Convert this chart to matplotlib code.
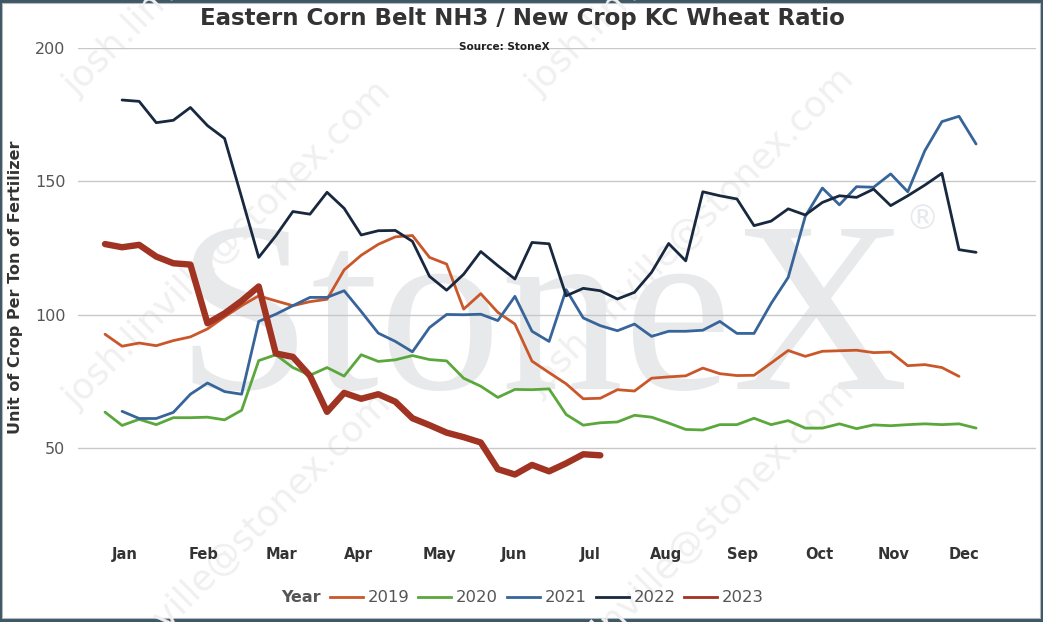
import numpy as np
import matplotlib
matplotlib.use("Agg")
import matplotlib.pyplot as plt
from matplotlib.lines import Line2D
from matplotlib.patches import Rectangle

# ---------------- data ----------------
months = ["Jan", "Feb", "Mar", "Apr", "May", "Jun", "Jul", "Aug", "Sep", "Oct", "Nov", "Dec"]
years = ["2019", "2020", "2021", "2022", "2023"]
N = None

y2019 = [92.7, 88.2, 89.4, 88.4, 90.3, 91.7, 94.7, 99.2, 103.4, 107.1, 105.2, 103.4, 104.9, 105.8,
         116.8, 122.3, 126.4, 129.2, 129.7, 121.5, 119.0, 102.1, 107.9, 100.9, 96.5, 82.6, 78.3,
         74.1, 68.5, 68.7, 71.9, 71.4, 76.2, 76.7, 77.1, 80.0, 77.9, 77.2, 77.3, 81.9, 86.6, 84.4,
         86.3, 86.5, 86.7, 85.8, 86.0, 80.9, 81.3, 80.2, 76.9, N]
y2020 = [63.5, 58.5, 60.8, 58.8, 61.4, 61.4, 61.6, 60.6, 64.2, 82.8, 85.0, 80.2, 77.3, 80.2, 77.0,
         85.0, 82.5, 83.1, 84.7, 83.2, 82.7, 76.2, 73.2, 69.0, 72.0, 71.9, 72.2, 62.6, 58.6, 59.5,
         59.8, 62.3, 61.6, 59.4, 57.0, 56.8, 58.8, 58.8, 61.2, 58.8, 60.3, 57.5, 57.5, 59.1, 57.3,
         58.7, 58.4, 58.8, 59.1, 58.8, 59.1, 57.5]
y2021 = [N, 63.8, 61.1, 61.1, 63.4, 70.2, 74.4, 71.2, 70.2, 97.5, 100.2, 103.4, 106.5, 106.5, 109.0,
         101.2, 93.1, 90.0, 86.1, 95.2, 100.1, 100.0, 100.2, 97.8, 106.9, 93.8, 90.0, 109.4, 98.8,
         95.9, 94.0, 96.5, 91.9, 93.8, 93.8, 94.2, 97.5, 93.0, 93.0, 104.2, 114.0, 136.9, 147.5,
         141.2, 148.0, 147.8, 152.8, 146.1, 161.5, 172.4, 174.4, 164.0]
y2022 = [N, 180.5, 180.0, 172.0, 172.9, 177.7, 170.9, 166.1, 144.0, 121.5, 129.6, 138.7, 137.7,
         145.9, 139.9, 129.9, 131.5, 131.6, 127.5, 114.4, 109.2, 115.2, 123.7, 118.4, 113.4, 127.1,
         126.6, 107.1, 109.9, 109.0, 105.9, 108.4, 115.9, 126.7, 120.2, 146.1, 144.6, 143.4, 133.4,
         135.1, 139.7, 137.4, 142.1, 144.6, 144.0, 147.1, 140.9, 144.6, 148.6, 153.0, 124.4, 123.4]
y2023 = [126.5, 125.3, 126.2, 121.8, 119.3, 118.8, 96.8, 100.5, 105.2, 110.6, 85.5, 84.2, 77.1,
         63.6, 70.7, 68.5, 70.2, 67.4, 61.2, 58.6, 55.8, 54.1, 52.1, 42.1, 40.1, 43.7, 41.3, 44.3,
         47.7, 47.3]

series = [y2019, y2020, y2021, y2022, y2023]

# ---------------- style / layout ----------------
colors = ["#c9572a", "#5aa83c", "#37659a", "#18283f", "#a03322"]
widths = [2.0, 2.0, 2.0, 2.0, 4.6]
month_pos = [1.15, 5.76, 10.36, 14.85, 19.56, 23.96, 28.40, 32.83, 37.35, 41.84, 46.15, 50.29]

W, H = 1043, 622
fig = plt.figure(figsize=(W / 100, H / 100), dpi=100)
fig.patch.set_facecolor("#3e5868")
fig.patches.append(Rectangle((2 / W, 4 / H), (1040 - 2) / W, (619 - 4) / H,
                             transform=fig.transFigure, facecolor="white",
                             edgecolor="#b8b8b8", linewidth=0.8, zorder=-10))

x0, x1 = 78, 1036
ytop, ybot = 48, 530
ax = fig.add_axes([x0 / W, 1 - ybot / H, (x1 - x0) / W, (ybot - ytop) / H])
ax.set_facecolor("none")

# x: week index, pixel = 105 + i*17.08
ax.set_xlim((x0 - 105) / 17.08, (x1 - 105) / 17.08)
ax.set_ylim(19.3, 200)

# background watermark
ax.text(0.485, 0.293, "StoneX", transform=ax.transAxes, fontsize=176,
        family="Liberation Serif", color="#e8e9eb", ha="center", va="baseline", zorder=0)
ax.text(0.881, 0.645, "®", transform=ax.transAxes, fontsize=24, family="DejaVu Sans",
        color="#e8e9eb", ha="center", va="center", zorder=0)
for sx, sy in [(77, 97), (540, 97), (77, 410), (540, 397), (77, 722), (540, 710)]:
    fig.text(sx / W, 1 - sy / H, "josh.linville@stonex.com", rotation=45,
             rotation_mode="anchor", ha="left", va="baseline", fontsize=26,
             family="DejaVu Sans", color="#f0f0f0", zorder=-5)

ax.set_yticks([50, 100, 150, 200])
ax.grid(axis="y", color="#c8c8c8", linewidth=1.0, zorder=1)
ax.tick_params(axis="y", length=0, pad=9, labelsize=11.5, labelcolor="#555555")
ax.set_xticks(month_pos)
ax.set_xticklabels(months, fontweight="bold")
ax.tick_params(axis="x", length=0, pad=12, labelsize=10.5, labelcolor="#333333")
for s in ax.spines.values():
    s.set_visible(False)

idx = np.arange(52)
for ys, c, lw in zip(series, colors, widths):
    arr = np.array([np.nan if v is None else v for v in ys], dtype=float)
    ax.plot(idx[:len(arr)], arr, color=c, linewidth=lw, zorder=3,
            solid_joinstyle="round", solid_capstyle="round")

# titles
fig.text(522 / W, 1 - 18 / H, "Eastern Corn Belt NH3 / New Crop KC Wheat Ratio",
         ha="center", va="center", fontsize=16.5, fontweight="bold", color="#333333")
fig.text(504 / W, 1 - 47 / H, "Source: StoneX", ha="center", va="center",
         fontsize=7.5, fontweight="bold", color="#222222", zorder=5)
fig.text(16 / W, 1 - 287 / H, "Unit of Crop Per Ton of Fertilizer", rotation=90,
         ha="center", va="center", fontsize=11.5, fontweight="bold", color="#333333")

# legend
fig.text(301 / W, 1 - 598 / H, "Year", ha="center", va="center", fontsize=11.5,
         fontweight="bold", color="#555555")
handles = [Line2D([0], [0], color=c, linewidth=2.0) for c in colors]
leg = fig.legend(handles, years, loc="center left", bbox_to_anchor=(330 / W, 1 - 598 / H),
                 ncol=5, frameon=False, fontsize=11.8, handlelength=2.0,
                 handletextpad=0.3, columnspacing=0.55, borderpad=0, borderaxespad=0)
for t in leg.get_texts():
    t.set_color("#555555")

fig.savefig("out.png", dpi=100, facecolor=fig.get_facecolor())
